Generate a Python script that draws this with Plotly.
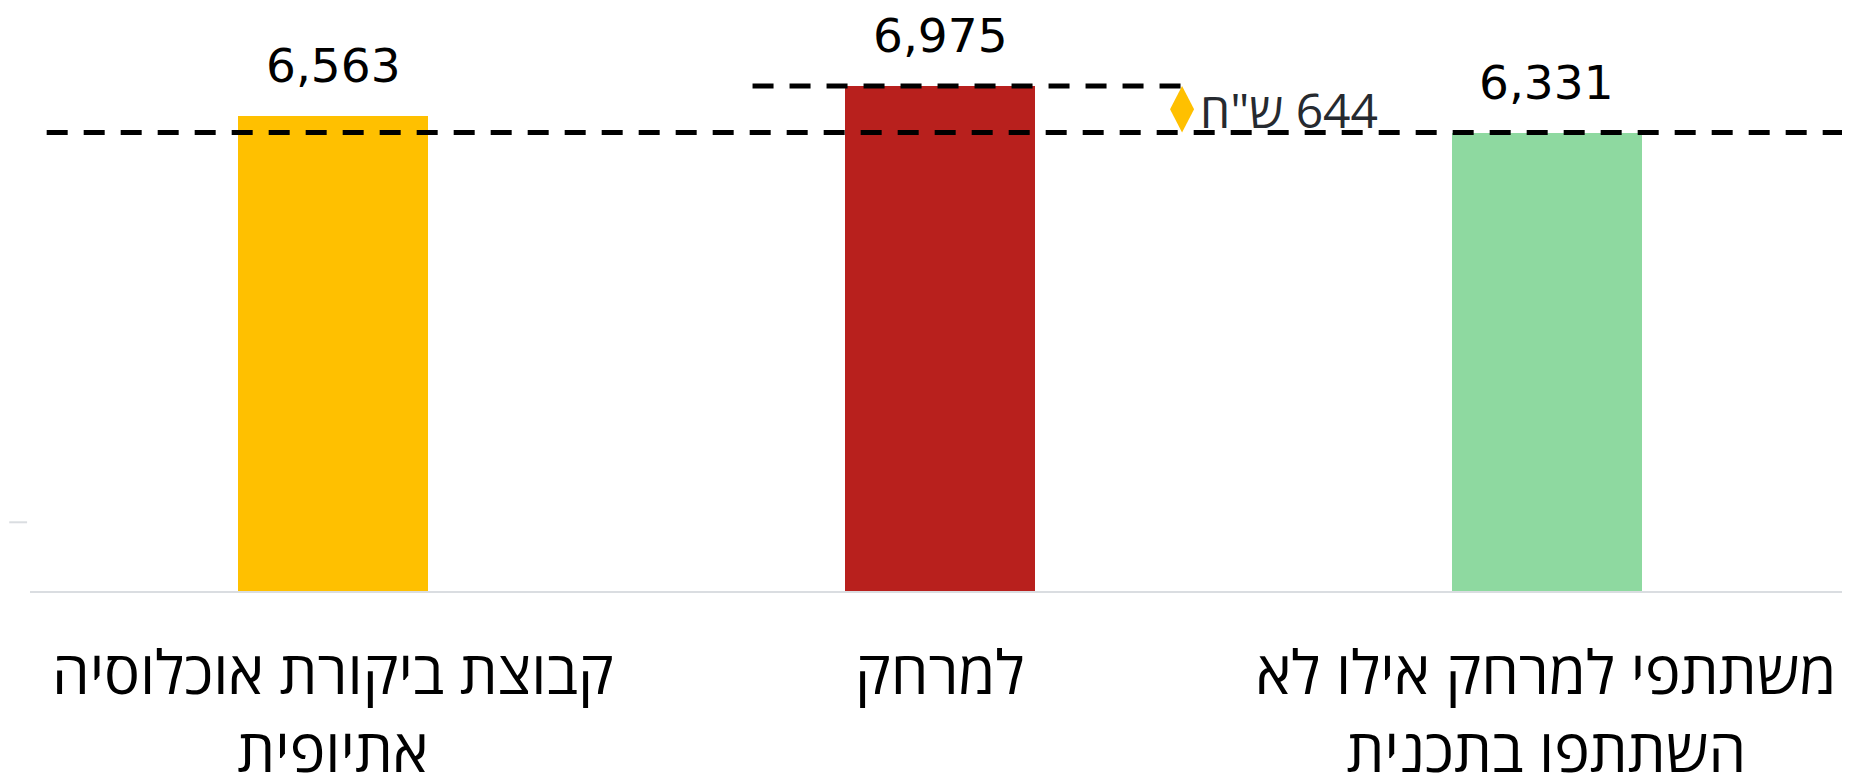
import plotly.graph_objects as go

# ---- data ----
categories = [
    "קבוצת ביקורת אוכלוסיה<br>אתיופית",
    "למרחק",
    "משתתפי למרחק אילו לא<br>השתתפו בתכנית",
]
values = [6563, 6975, 6331]
bar_colors = ["#FFC000", "#B8201D", "#8ED9A0"]
value_labels = [f"{v:,}" for v in values]
high_value = values[1]
low_value = values[2]
diff_value = high_value - low_value
diff_label = "\u200f" + f"{diff_value:,}" + ' ש"ח'

FONT = "Open Sans, DejaVu Sans, sans-serif"
NUM_FONT = "DejaVu Sans, Open Sans, sans-serif"

x_pos = list(range(len(categories)))
diamond_x = 1.399
diamond_dx = 0.0198
mid_value = (high_value + low_value) / 2

fig = go.Figure()
fig.add_trace(go.Bar(
    x=x_pos, y=values, width=0.313,
    marker=dict(color=bar_colors, line=dict(width=0)),
    hoverinfo="skip", showlegend=False,
))

# difference marker (diamond spanning the two levels)
fig.add_trace(go.Scatter(
    x=[diamond_x, diamond_x + diamond_dx, diamond_x, diamond_x - diamond_dx, diamond_x],
    y=[high_value, mid_value, low_value, mid_value, high_value],
    mode="lines", fill="toself", fillcolor="#FFC000",
    line=dict(width=0, color="#FFC000"),
    hoverinfo="skip", showlegend=False,
))

# dashed reference lines
fig.add_shape(type="line", xref="x", yref="y", x0=-0.4725, x1=2.5,
              y0=low_value, y1=low_value,
              line=dict(color="black", width=5, dash="21px,16px"), layer="above")
fig.add_shape(type="line", xref="x", yref="y", x0=0.691, x1=1.398,
              y0=high_value, y1=high_value,
              line=dict(color="black", width=5, dash="21px,16px"), layer="above")

# small grey stub at left
fig.add_shape(type="line", xref="paper", yref="y", x0=-0.0114, x1=-0.0016,
              y0=949, y1=949, line=dict(color="#DADDE1", width=2))

annotations = []
for i, (lab, v) in enumerate(zip(value_labels, values)):
    annotations.append(dict(
        x=i, y=v, xref="x", yref="y", text=lab, showarrow=False,
        yanchor="middle", yshift=50,
        font=dict(family=NUM_FONT, size=47, color="black"),
    ))
for i, cat in enumerate(categories):
    annotations.append(dict(
        x=i, y=0, xref="x", yref="y", text=cat, showarrow=False,
        yanchor="top", yshift=-37,
        font=dict(family=FONT, size=60, color="black"),
    ))
annotations.append(dict(
    x=diamond_x, y=mid_value, xref="x", yref="y",
    text=diff_label, showarrow=False, xanchor="left", yanchor="middle",
    xshift=16, font=dict(family=FONT, size=48, color="#262A30"),
))

fig.update_layout(
    width=1842, height=765,
    margin=dict(l=22, r=0, t=0, b=182, pad=0),
    paper_bgcolor="white", plot_bgcolor="white",
    xaxis=dict(range=[-0.5, 2.5], showticklabels=False, showgrid=False,
               zeroline=False, showline=True, linecolor="#DADDE1", linewidth=2,
               ticks="", fixedrange=True),
    yaxis=dict(range=[0, 8052], visible=False, showgrid=False, zeroline=False,
               fixedrange=True),
    annotations=annotations,
    bargap=0,
)

fig.write_html("out.html")
